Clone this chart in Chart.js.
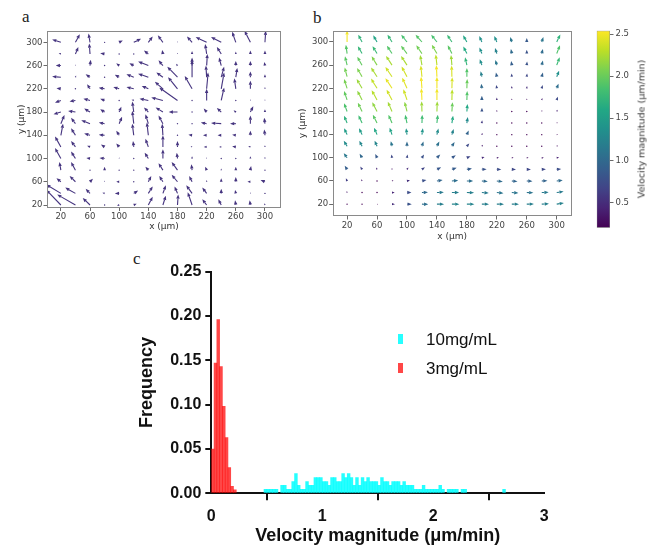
<!DOCTYPE html>
<html>
<head>
<meta charset="utf-8">
<script src="https://cdn.jsdelivr.net/npm/chart.js@4.4.1/dist/chart.umd.min.js"></script>
<style>
  html, body { margin: 0; padding: 0; background: #fff; }
  body { width: 658px; height: 548px; position: relative; overflow: hidden; }
  canvas { position: absolute; }
  .plbl { position: absolute; font-family: "Liberation Serif", "DejaVu Serif", serif; font-size: 17px; line-height: 17px; color: #222; }
  .cblabel { position: absolute; font-family: "DejaVu Sans", sans-serif; font-size: 9.5px; color: #333; white-space: nowrap;
             transform-origin: center center; transform: translate(-50%, -50%) rotate(-90deg); }
</style>
</head>
<body>
<div class="plbl" style="left:22px;top:8px;">a</div>
<div class="plbl" style="left:313px;top:9px;">b</div>
<div class="plbl" style="left:133px;top:250px;">c</div>

<canvas id="chartA" width="300" height="245" style="left:0px;top:0px;"></canvas>
<canvas id="chartB" width="300" height="248" style="left:290px;top:0px;"></canvas>
<canvas id="chartCB" width="68" height="248" style="left:590px;top:0px;"></canvas>
<div class="cblabel" style="left:641px;top:129px;">Velocity magnitude (μm/min)</div>
<canvas id="chartC" width="430" height="303" style="left:130px;top:245px;"></canvas>

<script>
// ---------------- DATA ----------------
const gridX = [20, 40, 60, 80, 100, 120, 140, 160, 180, 200, 220, 240, 260, 280, 300];
const gridY = [300, 280, 260, 240, 220, 200, 180, 160, 140, 120, 100, 80, 60, 40, 20];
const quiverTicks = [20, 60, 100, 140, 180, 220, 260, 300];

// Panel a: velocity components (a.u.), rows follow gridY (top row first)
const aU = [
  [-12, 6, -2, 0.5, 5, 10, 6, -7, 0, -7, -15, -14, -5, -8, 1],
  [-3, 4, -1, -6, 0, 1, -6, -1, 0, 0, -2, -6, 0, 0, 0],
  [-7, 0, 1, 0.3, -4, -6, -14, -6, -2, 0, 1, -3, 0, 0, -1],
  [-12, 1, -6, 0, -6, -10, -14, -9, -14, 0, -1, 4, 2, 0, 0],
  [-6, 0, -4, -8, -8, -10, -9, -11, -13, -10, 2, 4, -2, 0, 0],
  [-8, -8, -9, -6, 0, -3, -12, -16, -25, 0, 0, 4, 0, 0, 0],
  [-10, -10, -8, -6, 3, -2, -6, -10, -12, 0, -4, -6, -3, 4, 0],
  [5, -6, -12, -8, 4, -2, -4, -6, 0, 0, -8, -14, -8, 0, -1],
  [3, -6, -8, -8, -4, -2, -2, -1, 0, -5, -5, -5, -5, 0, -1],
  [-8, -6, -4, -5, -4, -1, -4, 0, 0, -2, -4, -3, -5, -3, 0],
  [-8, -6, -5, -7, 0, 0, -5, 0, -1, 0, 0, 0, 0, 0, 0],
  [-2, -6, 0, 0, 0, 0, -4, -6, -8, -1, -2, 0, 0, 1, 0],
  [-6, -8, 4, 0, -4, 0, 4, -5, -8, -4, 0, 0, 0, -4, -6],
  [-20, -14, -6, -3, -6, 6, 6, 4, -4, -8, -6, 0, -1, 0, 0],
  [-20, -25, -10, 0, -3, 4, 6, 4, 1, -6, -6, -4, -1, -1, -1]
];
const aV = [
  [5, 14, 15, 1.5, 3, 6, 10, 12, 2, 10, 9, 9, 18, 20, 20],
  [1, 12, 18, 1, 0.5, 0.5, 6, 7, 2, 5, 17, 12, 4, 6, 6],
  [0, 2, 10, 0.3, 4, 4, 7, 9, 3, 14, 20, 14, 8, 8, 6],
  [1, 3, 5, 1, 4, 5, 6, 8, 18, 30, 20, 18, 16, 10, 5],
  [1, 1, 8, 2, 3, 3, 5, 12, 20, 22, 28, 28, 18, 14, 3],
  [-4, -2, 3, 3, 0, 1, 3, 5, 22, 1, 20, 22, 1, 2, 2],
  [-4, 2, 6, 5, 9, 18, 8, 8, 0, 1, 6, 7, 3, 10, 5],
  [15, 10, 6, 2, 12, 22, 16, 14, 0.5, 1, 2, 1, 0, 14, 10],
  [20, 12, 3, 1, 8, 20, 22, 20, 1, 1, 0, 0, 1, 8, 10],
  [18, 10, 2, 4, 6, 10, 14, 20, 10, 1, 0, 0, 1, 1, 3],
  [18, 12, 1, 1, 2, 1, 10, 16, 10, 4, 2, 1, 1, 4, 3],
  [14, 14, 0.5, 6, 1, 0.5, 6, 12, 14, 10, 6, 3, 6, 7, 1],
  [6, 10, 5, 2, 0, 0.5, 10, 10, 12, 10, 3, 6, 8, 0, 3],
  [15, 10, 8, 1, 0, 5, 12, 14, 12, 14, 10, 8, 6, 2, 1],
  [26, 18, 12, 1, -1, 2, 14, 16, 18, 22, 10, 10, 8, 8, 3]
];

// Panel b: velocity components (μm/min), rows follow gridY (top row first)
const bU = [
  [0, -0.64, -0.64, -0.75, -0.96, -1.07, -0.96, -0.8, -0.64, -0.43, -0.43, -0.27, 0, 0.27, 0.6],
  [-0.2, -0.7, -0.75, -0.85, -1.0, -0.95, -0.85, -0.7, -0.6, -0.4, -0.3, -0.15, 0, 0.2, 0.55],
  [-0.35, -0.8, -0.9, -1.0, -1.0, -0.3, -0.2, -0.15, -0.3, -0.35, -0.25, -0.1, 0.05, 0.2, 0.5],
  [-0.4, -0.85, -1.0, -1.1, -0.9, -0.2, -0.1, -0.05, 0, -0.2, -0.15, -0.05, 0.05, 0.2, 0.4],
  [-0.5, -0.9, -1.0, -1.1, -0.8, -0.15, 0, 0.05, 0.05, -0.1, -0.1, 0, 0.05, 0.15, 0.3],
  [-0.5, -0.8, -0.9, -0.9, -0.6, -0.1, 0, 0.05, 0.05, 0, 0, 0, 0.02, 0.1, 0.2],
  [-0.5, -0.7, -0.8, -0.7, -0.4, -0.05, 0.05, 0.1, 0.1, 0.02, 0, 0, 0, 0.05, 0.15],
  [-0.5, -0.6, -0.7, -0.6, -0.3, 0.05, 0.15, 0.2, 0.15, 0.05, 0, 0, 0, 0.05, 0.15],
  [-0.5, -0.5, -0.5, -0.4, -0.15, 0.15, 0.25, 0.3, 0.3, 0.1, 0.02, 0, 0, 0.1, 0.2],
  [-0.55, -0.45, -0.4, -0.2, 0, 0.25, 0.4, 0.45, 0.4, 0.2, 0.1, 0.05, 0.05, 0.15, 0.25],
  [-0.55, -0.4, -0.3, -0.1, 0.1, 0.35, 0.55, 0.65, 0.6, 0.45, 0.35, 0.3, 0.3, 0.35, 0.4],
  [-0.4, -0.3, -0.15, 0, 0.25, 0.5, 0.7, 0.8, 0.85, 0.8, 0.75, 0.7, 0.7, 0.7, 0.75],
  [-0.2, -0.15, 0, 0.25, 0.5, 0.75, 0.95, 1.05, 1.05, 1.0, 1.0, 0.95, 0.95, 0.95, 1.0],
  [-0.05, 0, 0.15, 0.45, 0.75, 1.0, 1.15, 1.2, 1.2, 1.15, 1.1, 1.1, 1.1, 1.15, 1.15],
  [0, 0.05, 0.2, 0.5, 0.8, 1.05, 1.2, 1.25, 1.25, 1.2, 1.2, 1.2, 1.2, 1.2, 1.2]
];
const bV = [
  [2.5, 1.58, 1.43, 1.58, 1.58, 1.58, 1.58, 1.58, 1.43, 1.29, 1.29, 1.08, 0.86, 1.08, 1.6],
  [1.9, 1.6, 1.6, 1.7, 1.7, 1.8, 1.9, 1.8, 1.5, 1.3, 1.2, 1.0, 0.8, 1.0, 1.8],
  [1.9, 1.8, 1.9, 2.0, 2.0, 2.2, 2.3, 2.2, 1.7, 1.3, 1.1, 0.9, 0.8, 1.0, 1.7],
  [2.0, 1.9, 2.0, 2.1, 2.2, 2.4, 2.5, 2.4, 1.9, 1.2, 0.9, 0.7, 0.7, 0.9, 1.3],
  [2.0, 2.0, 2.1, 2.2, 2.3, 2.5, 2.5, 2.4, 2.0, 1.0, 0.7, 0.5, 0.5, 0.7, 1.0],
  [1.9, 2.0, 2.1, 2.2, 2.3, 2.5, 2.5, 2.3, 1.9, 0.9, 0.5, 0.3, 0.3, 0.4, 0.7],
  [1.8, 1.9, 2.0, 2.1, 2.1, 2.2, 2.2, 2.0, 1.6, 0.8, 0.35, 0.2, 0.2, 0.3, 0.4],
  [1.6, 1.7, 1.8, 1.8, 1.8, 1.8, 1.8, 1.6, 1.3, 0.6, 0.2, 0.1, 0.05, 0.1, 0.2],
  [1.4, 1.4, 1.5, 1.5, 1.4, 1.4, 1.3, 1.2, 0.9, 0.4, 0.2, 0.1, 0.05, 0.05, 0.1],
  [1.2, 1.2, 1.2, 1.1, 1.0, 1.0, 1.0, 0.9, 0.6, 0.3, 0.1, 0.05, 0, 0.05, 0.1],
  [1.0, 0.9, 0.8, 0.7, 0.7, 0.7, 0.7, 0.55, 0.35, 0.15, 0.05, 0, 0, 0.02, 0.05],
  [0.8, 0.6, 0.4, 0.35, 0.4, 0.45, 0.45, 0.35, 0.2, 0.05, -0.05, -0.05, 0, 0.05, 0.1],
  [0.6, 0.35, 0.15, 0.1, 0.15, 0.2, 0.2, 0.1, 0, -0.1, -0.15, -0.1, -0.05, 0.05, 0.15],
  [0.35, 0.2, 0.05, 0, 0, 0.05, 0.05, 0, -0.05, -0.1, -0.15, -0.1, -0.05, 0.05, 0.2],
  [0.1, 0.02, 0, -0.05, -0.05, -0.05, -0.02, 0, 0, 0, 0, 0, 0.02, 0.1, 0.25]
];

// Colorbar
const cbMin = 0.2;
const cbMax = 2.54;
const colorbarTicks = [0.5, 1.0, 1.5, 2.0, 2.5];
const viridisStops = ['#440154', '#482475', '#414487', '#355f8d', '#2a788e', '#21918c',
                      '#22a884', '#44bf70', '#7ad151', '#bddf26', '#fde725'];

// Panel c: histogram bins (bin centres, μm/min) and frequencies
const redLabel = '3mg/mL';
const redX    = [0.0125, 0.0375, 0.0625, 0.0875, 0.1125, 0.1375, 0.1625, 0.1875, 0.2125];
const redFreq = [0.050, 0.147, 0.196, 0.143, 0.098, 0.063, 0.029, 0.008, 0.004];

const cyanLabel = '10mg/mL';
const cyanX = [0.4875, 0.5125, 0.5375, 0.5625, 0.5875, 0.6375, 0.6625, 0.6875, 0.7125, 0.7375,
               0.7625, 0.7875, 0.8125, 0.8375, 0.8625, 0.8875, 0.9125, 0.9375, 0.9625, 0.9875,
               1.0125, 1.0375, 1.0625, 1.0875, 1.1125, 1.1375, 1.1625, 1.1875, 1.2125, 1.2375,
               1.2625, 1.2875, 1.3125, 1.3375, 1.3625, 1.3875, 1.4125, 1.4375, 1.4625, 1.4875,
               1.5125, 1.5375, 1.5625, 1.5875, 1.6125, 1.6375, 1.6625, 1.6875, 1.7125, 1.7375,
               1.7625, 1.7875, 1.8125, 1.8375, 1.8625, 1.8875, 1.9125, 1.9375, 1.9625, 1.9875,
               2.0125, 2.0375, 2.0625, 2.0875, 2.1375, 2.1625, 2.1875, 2.2125, 2.2625, 2.2875,
               2.6375];
const cyanFreq = [0.0044, 0.0044, 0.0044, 0.0044, 0.0044, 0.0089, 0.0089, 0.0044, 0.0044, 0.0133,
                  0.0222, 0.0089, 0.0044, 0.0044, 0.0133, 0.0089, 0.0089, 0.0178, 0.0178, 0.0178,
                  0.0133, 0.0133, 0.0089, 0.0178, 0.0178, 0.0133, 0.0133, 0.0222, 0.0178, 0.0222,
                  0.0178, 0.0089, 0.0178, 0.0089, 0.0178, 0.0133, 0.0178, 0.0133, 0.0133, 0.0133,
                  0.0089, 0.0178, 0.0133, 0.0133, 0.0089, 0.0133, 0.0133, 0.0133, 0.0089, 0.0133,
                  0.0089, 0.0089, 0.0089, 0.0044, 0.0044, 0.0044, 0.0089, 0.0044, 0.0044, 0.0044,
                  0.0044, 0.0044, 0.0089, 0.0044, 0.0044, 0.0044, 0.0044, 0.0044, 0.0044, 0.0044,
                  0.0044];
const histXTicks = [0, 1, 2, 3];
const histYTicks = [0, 0.05, 0.10, 0.15, 0.20, 0.25];

// ---------------- HELPERS ----------------
function hexToRgb(h) { const n = parseInt(h.slice(1), 16); return [(n >> 16) & 255, (n >> 8) & 255, n & 255]; }
function viridis(t) {
  t = Math.max(0, Math.min(1, t));
  const s = t * (viridisStops.length - 1);
  const i = Math.min(viridisStops.length - 2, Math.floor(s));
  const f = s - i;
  const a = hexToRgb(viridisStops[i]), b = hexToRgb(viridisStops[i + 1]);
  return 'rgb(' + a.map((v, k) => Math.round(v + (b[k] - v) * f)).join(',') + ')';
}
function buildQuiver(U, V) {
  const pts = [];
  gridY.forEach((y, r) => gridX.forEach((x, c) => pts.push({ x: x, y: y, u: U[r][c], v: V[r][c] })));
  return pts;
}
function drawArrow(ctx, x0, y0, x1, y1, color, shaft) {
  const dx = x1 - x0, dy = y1 - y0;
  const L = Math.hypot(dx, dy);
  ctx.fillStyle = color; ctx.strokeStyle = color;
  if (L < 1.0) {
    ctx.beginPath(); ctx.arc(x0, y0, 0.7, 0, Math.PI * 2); ctx.fill();
    return;
  }
  const HL = 4.2, HW = 3.4;
  const s = Math.min(1, L / HL);
  const hl = HL * s, hw = HW * s;
  const ux = dx / L, uy = dy / L, px = -uy, py = ux;
  const bx = x1 - ux * hl, by = y1 - uy * hl;
  ctx.lineWidth = shaft;
  ctx.lineCap = 'butt';
  ctx.beginPath(); ctx.moveTo(x0, y0); ctx.lineTo(bx, by); ctx.stroke();
  ctx.beginPath();
  ctx.moveTo(x1, y1);
  ctx.lineTo(bx + px * hw / 2, by + py * hw / 2);
  ctx.lineTo(bx - px * hw / 2, by - py * hw / 2);
  ctx.closePath(); ctx.fill();
}

const quiverPlugin = {
  id: 'quiver',
  afterDatasetsDraw(chart, args, opts) {
    const { ctx, chartArea: ca } = chart;
    const xs = chart.scales.x, ys = chart.scales.y;
    ctx.save();
    ctx.beginPath(); ctx.rect(ca.left, ca.top, ca.right - ca.left, ca.bottom - ca.top); ctx.clip();
    chart.data.datasets[0].data.forEach(p => {
      const x0 = xs.getPixelForValue(p.x), y0 = ys.getPixelForValue(p.y);
      const x1 = xs.getPixelForValue(p.x + p.u * opts.scale), y1 = ys.getPixelForValue(p.y + p.v * opts.scale);
      const color = opts.colorByMagnitude
        ? viridis((Math.hypot(p.u, p.v) - cbMin) / (cbMax - cbMin))
        : opts.color;
      drawArrow(ctx, x0, y0, x1, y1, color, opts.shaft);
    });
    ctx.restore();
    ctx.save();
    ctx.strokeStyle = opts.frameColor; ctx.lineWidth = 1;
    ctx.strokeRect(Math.round(ca.left) + 0.5, Math.round(ca.top) + 0.5,
                   Math.round(ca.right - ca.left) - 1, Math.round(ca.bottom - ca.top) - 1);
    ctx.restore();
  }
};

const smallFont = { family: 'DejaVu Sans', size: 8.5 };
const titleFont = { family: 'DejaVu Sans', size: 9 };

function quiverScales(cfg) {
  return {
    x: {
      type: 'linear', min: cfg.xmin, max: cfg.xmax,
      afterBuildTicks: s => { s.ticks = quiverTicks.map(v => ({ value: v })); },
      afterFit: s => { s.height = cfg.xAxisH; },
      grid: { drawOnChartArea: false, drawTicks: true, tickLength: 3.5, color: '#444', lineWidth: 0.8 },
      border: { display: false },
      ticks: { font: smallFont, color: '#444', padding: 1, maxRotation: 0, autoSkip: false },
      title: { display: true, text: 'x (μm)', font: titleFont, color: '#333', padding: { top: 0, bottom: 0 } }
    },
    y: {
      type: 'linear', min: cfg.ymin, max: cfg.ymax,
      afterBuildTicks: s => { s.ticks = quiverTicks.map(v => ({ value: v })); },
      afterFit: s => { s.width = cfg.yAxisW; },
      grid: { drawOnChartArea: false, drawTicks: true, tickLength: 3.5, color: '#444', lineWidth: 0.8 },
      border: { display: false },
      ticks: { font: smallFont, color: '#444', padding: 1, autoSkip: false },
      title: { display: true, text: 'y (μm)', font: titleFont, color: '#333', padding: { top: cfg.yTitlePad, bottom: 0 } }
    }
  };
}

const common = { responsive: false, animation: false, devicePixelRatio: 1, events: [] };

// ---------------- PANEL A ----------------
new Chart(document.getElementById('chartA'), {
  type: 'scatter',
  data: { datasets: [{ data: buildQuiver(aU, aV), pointRadius: 0, pointHoverRadius: 0 }] },
  options: Object.assign({}, common, {
    layout: { padding: { left: 0, top: 31, right: 19, bottom: 12.6 } },
    plugins: { legend: { display: false }, tooltip: { enabled: false },
               quiver: { scale: 1, color: '#45347f', shaft: 1.1, frameColor: '#8a8a8a' } },
    scales: quiverScales({ xmin: 1, xmax: 322, ymin: 15.7, ymax: 319.5, xAxisH: 24.9, yAxisW: 47, yTitlePad: 16.3 })
  }),
  plugins: [quiverPlugin]
});

// ---------------- PANEL B ----------------
new Chart(document.getElementById('chartB'), {
  type: 'scatter',
  data: { datasets: [{ data: buildQuiver(bU, bV), pointRadius: 0, pointHoverRadius: 0 }] },
  options: Object.assign({}, common, {
    layout: { padding: { left: 0, top: 30.7, right: 18.3, bottom: 6.1 } },
    plugins: { legend: { display: false }, tooltip: { enabled: false },
               quiver: { scale: 8, colorByMagnitude: true, shaft: 1.1, frameColor: '#8a8a8a' } },
    scales: quiverScales({ xmin: 0.8, xmax: 320, ymin: -0.5, ymax: 319.5, xAxisH: 25.9, yAxisW: 42.7, yTitlePad: 7.6 })
  }),
  plugins: [quiverPlugin]
});

// ---------------- COLORBAR ----------------
new Chart(document.getElementById('chartCB'), {
  type: 'bar',
  data: {
    labels: ['magnitude'],
    datasets: [{
      data: [[cbMin, cbMax]],
      backgroundColor: (c) => {
        const chart = c.chart; const ys = chart.scales.y;
        if (!chart.chartArea || !ys) return viridisStops[5];
        const g = chart.ctx.createLinearGradient(0, ys.getPixelForValue(cbMin), 0, ys.getPixelForValue(cbMax));
        viridisStops.forEach((col, i) => g.addColorStop(i / (viridisStops.length - 1), col));
        return g;
      },
      borderColor: '#8a8a8a', borderWidth: 0.8, borderSkipped: false,
      categoryPercentage: 1, barPercentage: 1
    }]
  },
  options: Object.assign({}, common, {
    layout: { padding: { left: 6.7, top: 30.7, right: 0, bottom: 20.3 } },
    plugins: { legend: { display: false }, tooltip: { enabled: false } },
    scales: {
      x: { display: false },
      y: {
        position: 'right', min: cbMin, max: cbMax,
        afterBuildTicks: s => { s.ticks = colorbarTicks.map(v => ({ value: v })); },
        afterFit: s => { s.width = 48; },
        grid: { drawOnChartArea: false, drawTicks: true, tickLength: 3.5, color: '#444', lineWidth: 0.8 },
        border: { display: false },
        ticks: { font: smallFont, color: '#444', padding: 2, callback: v => Number(v).toFixed(1) }
      }
    }
  })
});

// ---------------- PANEL C ----------------
const legendPlugin = {
  id: 'legendC',
  afterDraw(chart, args, o) {
    const ctx = chart.ctx;
    ctx.save();
    chart.data.datasets.forEach((ds, i) => {
      const y = o.y0 + i * o.dy;
      ctx.fillStyle = ds.backgroundColor;
      ctx.fillRect(o.sx, y - 5, 5, 10);
      ctx.fillStyle = '#111';
      ctx.font = '17px "Liberation Sans", Arial, sans-serif';
      ctx.textBaseline = 'middle';
      ctx.fillText(ds.label, o.tx, y + 1);
    });
    ctx.restore();
  }
};

const boldTick = { family: 'Liberation Sans', weight: 'bold', size: 16 };
const boldTitle = { family: 'Liberation Sans', weight: 'bold', size: 18 };

new Chart(document.getElementById('chartC'), {
  type: 'bar',
  data: {
    datasets: [
      { label: cyanLabel, data: cyanX.map((x, i) => ({ x: x, y: cyanFreq[i] })), backgroundColor: 'rgba(0,255,255,0.85)' },
      { label: redLabel,  data: redX.map((x, i) => ({ x: x, y: redFreq[i] })),   backgroundColor: 'rgba(255,0,0,0.72)' }
    ]
  },
  options: Object.assign({}, common, {
    layout: { padding: { left: 0, top: 26.7, right: 15.7, bottom: 0.7 } },
    datasets: { bar: { grouped: false, categoryPercentage: 1, barPercentage: 1, borderWidth: 0 } },
    plugins: { legend: { display: false }, tooltip: { enabled: false },
               legendC: { sx: 268, tx: 296, y0: 94, dy: 29 } },
    scales: {
      x: {
        type: 'linear', min: 0, max: 3, offset: false,
        afterBuildTicks: s => { s.ticks = histXTicks.map(v => ({ value: v })); },
        afterFit: s => { s.height = 54; },
        grid: { drawOnChartArea: false, drawTicks: true, tickLength: 7, color: '#111', lineWidth: 2 },
        border: { display: true, color: '#111', width: 2 },
        ticks: { font: boldTick, color: '#111', padding: 7, maxRotation: 0, autoSkip: false },
        title: { display: true, text: 'Velocity magnitude (μm/min)', font: boldTitle, color: '#111', padding: { top: 0, bottom: 0 } }
      },
      y: {
        min: 0, max: 0.25,
        afterBuildTicks: s => { s.ticks = histYTicks.map(v => ({ value: v })); },
        afterFit: s => { s.width = 81.3; },
        grid: { drawOnChartArea: false, drawTicks: true, tickLength: 6, color: '#111', lineWidth: 2 },
        border: { display: true, color: '#111', width: 2 },
        ticks: { font: boldTick, color: '#111', padding: 4, callback: v => Number(v).toFixed(2) },
        title: { display: true, text: 'Frequency', font: boldTitle, color: '#111', padding: { top: 5.9, bottom: 0 } }
      }
    }
  }),
  plugins: [legendPlugin]
});
</script>
</body>
</html>
